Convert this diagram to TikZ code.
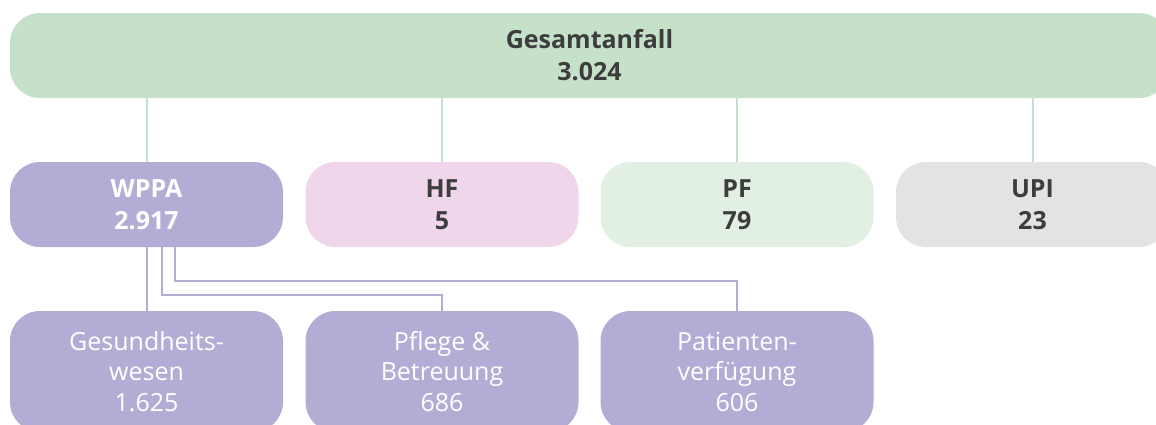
\documentclass[tikz,border=0pt]{standalone}
\usepackage{fontspec}
\setmainfont{Open Sans}
\usepackage{tikz}
\usetikzlibrary{positioning}
\definecolor{topgreen}{HTML}{C6E1C9}
\definecolor{lila}{HTML}{B3ADD6}
\definecolor{rosa}{HTML}{EFD6EA}
\definecolor{palegreen}{HTML}{E1F0E3}
\definecolor{hellgrau}{HTML}{E3E3E3}
\definecolor{textgrau}{HTML}{3D3D3D}
\tikzset{
  box/.style={rounded corners=30pt, minimum width=273pt, minimum height=85pt, align=center, inner sep=0pt, font=\fontsize{25}{32}\selectfont\bfseries, text=textgrau},
  subbox/.style={box, fill=lila, minimum height=121pt, text=white, font=\fontsize{25}{30.5}\selectfont},
  greenline/.style={draw=topgreen, line width=2pt},
  lilaline/.style={draw=lila, line width=2pt}
}
\begin{document}
\begin{tikzpicture}[x=1pt,y=-1pt]
	\useasboundingbox (0,0) rectangle (1156,424);
	\node[box, fill=topgreen, minimum width=1159pt] (gesamt) at (589.5,55.5) {Gesamtanfall\\3.024};
	\node[box, fill=lila, text=white] (wppa) at (146.5,204.5) {WPPA\\2.917};
	\node[box, fill=rosa] (hf) at (442,204.5) {HF\\5};
	\node[box, fill=palegreen] (pf) at (737,204.5) {PF\\79};
	\node[box, fill=hellgrau] (upi) at (1032.5,204.5) {UPI\\23};
	
	\node[subbox] (gesund) at (146.5,371.5) {Gesundheits-\\wesen\\1.625};
	\node[subbox] (pflege) at (442,371.5) {Pflege \&\\Betreuung\\686};
	\node[subbox] (patient) at (737,371.5) {Patienten-\\verfügung\\606};
	
	% Verbindungen Gesamtanfall
	\draw[greenline] (wppa.north |- gesamt.south) -- (wppa.north); \draw[greenline] (hf.north |- gesamt.south) -- (hf.north);
	\draw[greenline] (pf.north |- gesamt.south) -- (pf.north); \draw[greenline] (upi.north |- gesamt.south) -- (upi.north);
	
	% Verbindungen WPPA
	\draw[lilaline] (wppa.south) -- (gesund.north);
	\draw[lilaline] ([xshift=15pt]wppa.south) |- ([yshift=16pt]pflege.north) -- (pflege.north);
	\draw[lilaline] ([xshift=28pt]wppa.south) |- ([yshift=30pt]patient.north) -- (patient.north);
\end{tikzpicture}
\end{document}
